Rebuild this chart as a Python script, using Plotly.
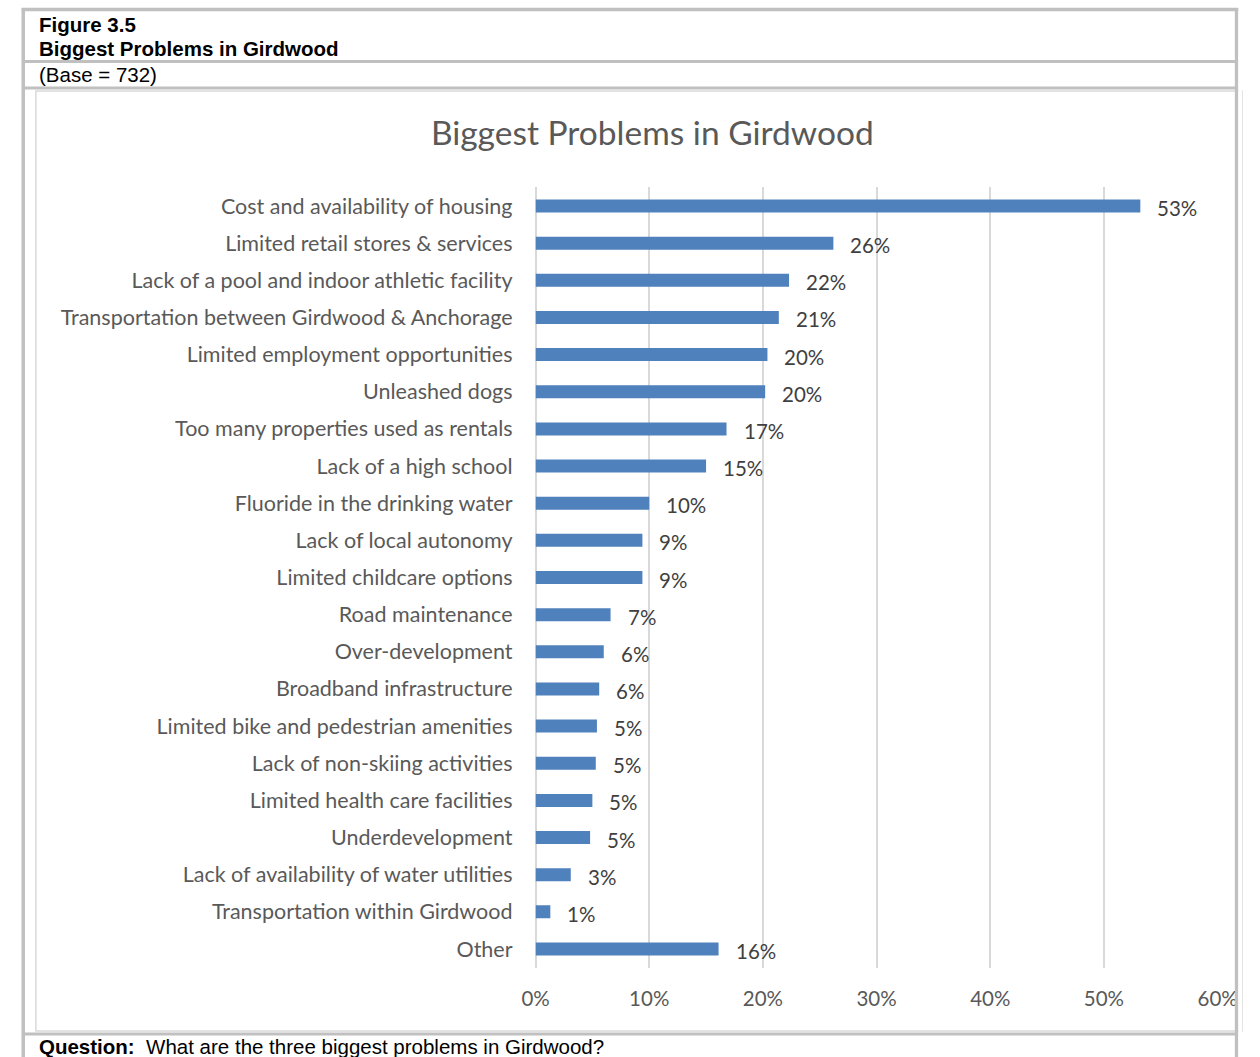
import plotly.graph_objects as go

categories = [
    "Cost and availability of housing",
    "Limited retail stores & services",
    "Lack of a pool and indoor athletic facility",
    "Transportation between Girdwood & Anchorage",
    "Limited employment opportunities",
    "Unleashed dogs",
    "Too many properties used as rentals",
    "Lack of a high school",
    "Fluoride in the drinking water",
    "Lack of local autonomy",
    "Limited childcare options",
    "Road maintenance",
    "Over-development",
    "Broadband infrastructure",
    "Limited bike and pedestrian amenities",
    "Lack of non-skiing activities",
    "Limited health care facilities",
    "Underdevelopment",
    "Lack of availability of water utilities",
    "Transportation within Girdwood",
    "Other",
]
values = [0.532, 0.262, 0.223, 0.214, 0.204, 0.202, 0.168, 0.150, 0.100, 0.094,
          0.094, 0.066, 0.060, 0.056, 0.054, 0.053, 0.050, 0.048, 0.031, 0.013, 0.161]
x_ticks = [0, 0.1, 0.2, 0.3, 0.4, 0.5, 0.6]

W, H = 1260, 1057
def px(x): return x / W
def py(y): return 1 - y / H

BAR = "#4F81BD"
TXT = "#595959"
FONT = "Lato, Carlito, 'Open Sans', sans-serif"
HFONT = "'Liberation Sans', Arial, sans-serif"

fig = go.Figure()
fig.add_trace(go.Bar(
    x=values, y=categories, orientation="h",
    marker=dict(color=BAR, line=dict(width=0)),
    hoverinfo="skip",
))

annotations = []
for c, v in zip(categories, values):
    annotations.append(dict(
        x=v, y=c, xref="x", yref="y", text=f"{round(v * 100)}%", showarrow=False,
        xanchor="left", yanchor="middle", xshift=15, yshift=-2,
        font=dict(family=FONT, size=20.5, color="#404040"),
    ))

HS = 20.5
annotations += [
    dict(x=px(24), y=py(25), xref="paper", yref="paper", text="<b>Figure 3.5</b>",
         showarrow=False, xanchor="left", yanchor="middle",
         font=dict(family=HFONT, size=HS, color="#000000")),
    dict(x=px(24), y=py(48), xref="paper", yref="paper", text="<b>Biggest Problems in Girdwood</b>",
         showarrow=False, xanchor="left", yanchor="middle",
         font=dict(family=HFONT, size=HS, color="#000000")),
    dict(x=px(24), y=py(75), xref="paper", yref="paper", text="(Base = 732)",
         showarrow=False, xanchor="left", yanchor="middle",
         font=dict(family=HFONT, size=HS, color="#000000")),
    dict(x=px(24), y=py(1046), xref="paper", yref="paper",
         text="<b>Question:</b>  What are the three biggest problems in Girdwood?",
         showarrow=False, xanchor="left", yanchor="middle",
         font=dict(family=HFONT, size=HS, color="#000000")),
]

G = "#c0c0c0"
LG = "#d9d9d9"
shapes = [
    dict(type="rect", xref="paper", yref="paper", x0=px(22.5), x1=px(1262), y0=py(1031), y1=py(91),
         line=dict(color=LG, width=1.5), layer="above"),
    dict(type="line", xref="paper", yref="paper", x0=px(8), x1=px(1259), y0=py(9.5), y1=py(9.5),
         line=dict(color=G, width=3.5)),
    dict(type="line", xref="paper", yref="paper", x0=px(9.5), x1=px(9.5), y0=py(8), y1=py(1060),
         line=dict(color=G, width=3.5)),
    dict(type="line", xref="paper", yref="paper", x0=px(1256.5), x1=px(1256.5), y0=py(8), y1=py(1060),
         line=dict(color=G, width=3.5)),
    dict(type="line", xref="paper", yref="paper", x0=px(9.5), x1=px(1256.5), y0=py(61.5), y1=py(61.5),
         line=dict(color=G, width=3)),
    dict(type="line", xref="paper", yref="paper", x0=px(9.5), x1=px(1256.5), y0=py(88), y1=py(88),
         line=dict(color=G, width=3)),
    dict(type="line", xref="paper", yref="paper", x0=px(9.5), x1=px(1256.5), y0=py(1034), y1=py(1034),
         line=dict(color=G, width=3)),
    dict(type="rect", xref="paper", yref="paper", x0=px(1258.3), x1=px(1262), y0=py(0), y1=py(1060),
         line=dict(width=0), fillcolor="#ffffff", layer="above"),
]

fig.update_layout(
    width=W, height=H, autosize=False,
    margin=dict(l=0, r=0, t=0, b=0),
    paper_bgcolor="#ffffff", plot_bgcolor="#ffffff",
    showlegend=False,
    bargap=0.65,
    title=dict(text="Biggest Problems in Girdwood", x=px(656), y=py(133),
               xanchor="center", yanchor="middle", xref="paper", yref="paper",
               font=dict(family=FONT, size=33.5, color=TXT)),
    xaxis=dict(domain=[px(536), px(1237)], range=[0, 0.6], tickvals=x_ticks, tickformat=".0%",
               showgrid=True, gridcolor=LG, gridwidth=2, zeroline=True, zerolinecolor=LG,
               zerolinewidth=2, showline=False, ticks="", ticklabelstandoff=17,
               tickfont=dict(family=FONT, size=20.5, color=TXT), fixedrange=True),
    yaxis=dict(domain=[py(967.6), py(187.4)], autorange="reversed", categoryorder="array",
               categoryarray=categories, showgrid=False, zeroline=False, showline=False,
               ticks="", ticklabelstandoff=22,
               tickfont=dict(family=FONT, size=21.5, color=TXT), fixedrange=True),
    annotations=annotations,
    shapes=shapes,
)

fig.write_html(
    "out.html",
    config={"responsive": False, "displayModeBar": False},
    post_script="document.body.style.margin='0';document.body.style.padding='0';"
                "document.body.style.overflow='hidden';"
                "document.documentElement.style.overflow='hidden';",
)
